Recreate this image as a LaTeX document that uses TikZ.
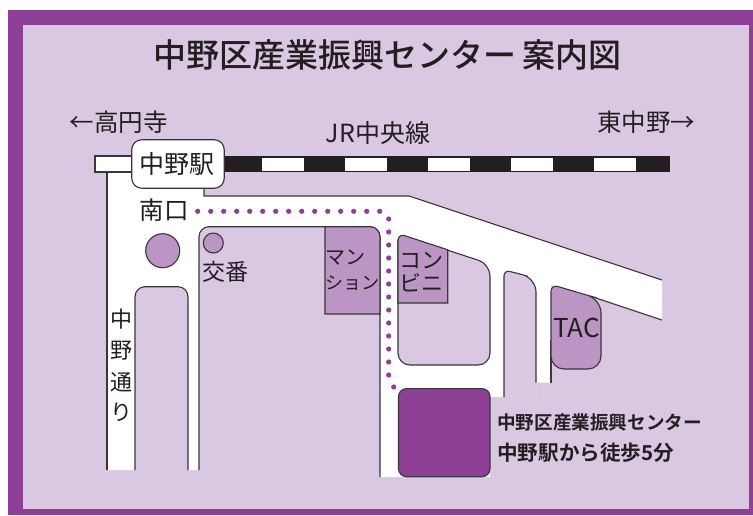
\documentclass[tikz,border=0pt]{standalone}
\usepackage{fontspec}
\newfontfamily\jp{Noto Sans CJK JP}
\newfontfamily\jpm{Noto Sans CJK JP Medium}
\newfontfamily\jpb{Noto Sans CJK JP Bold}
\definecolor{frame}{HTML}{8E3F96}
\definecolor{lilac}{HTML}{DAC8E3}
\definecolor{blockc}{HTML}{BB95C4}
\definecolor{ink}{HTML}{231F20}
\definecolor{edge}{HTML}{3A3638}
\tikzset{
  road/.style={draw=edge,line width=1.1pt},
  lab/.style={text=ink,inner sep=0pt,font=\jp},
  walk/.style={fill=frame},
}
\newcommand{\fs}[1]{\fontsize{#1}{#1}\selectfont}
\begin{document}
\begin{tikzpicture}[x=1pt,y=-1pt]
\useasboundingbox (0,0) rectangle (753,515);
\fill[white] (0,0) rectangle (753,515);
\fill[frame] (8,9.5) rectangle (753,515);
\fill[lilac] (23,25) rectangle (748.7,508.7);
% white road area
\fill[white] (107,171) -- (204,171) -- (204,196) -- (409,196) -- (662,280) -- (662,320) -- (596,298)
  -- (551,285) -- (551,382.6) -- (536,382.6) -- (536,397) -- (490,397) -- (490,477) -- (380,477)
  -- (380,470) -- (107,470) -- cycle;
% lilac blocks between the roads
\fill[lilac] (135,470.5) [rounded corners=10pt] -- (135,286.7) -- (188,286.7) [sharp corners] -- (188,470.5) -- cycle;
\draw[road] (135,470) [rounded corners=10pt] -- (135,286.7) -- (188,286.7) [sharp corners] -- (188,470);
\fill[lilac] (199,470.5) [rounded corners=10pt] -- (199,226.7) -- (380,226.7) [sharp corners] -- (380,470.5) -- cycle;
\fill[lilac] (504,398) [rounded corners=6pt] -- (504,270) -- (522,274.5) [rounded corners=13pt] -- (536,279) [sharp corners] -- (536,398) -- cycle;
% road edges
\draw[road] (107,470) -- (107,171);
\draw[road] (199,470) [rounded corners=10pt] -- (199,226.7) -- (380,226.7) [sharp corners] -- (380,477);
\draw[road] (204,188) -- (204,196) -- (409,196) -- (662,280);
\draw[road] (662,320) -- (596,298);
\draw[road] (504,397) [rounded corners=6pt] -- (504,270) -- (522,274.5) [rounded corners=13pt] -- (536,279) [sharp corners] -- (536,382.6);
\draw[road] (551,340) -- (551,382.6);
% convenience block
\draw[road,fill=lilac] (398,300) [rounded corners=7pt] -- (398,234) -- (447,250) [rounded corners=12pt] -- (490,264) -- (490,365) -- (398,365) -- cycle;
\draw[road,fill=blockc] (398,303) [rounded corners=7pt] -- (398,233.5) [sharp corners] -- (447.7,249.8) -- (447.7,303) -- cycle;
% buildings
\draw[road,fill=blockc] (325,314) -- (325,226.7) [rounded corners=10pt] -- (380,226.7) [sharp corners] -- (380,314) -- cycle;
\draw[road,fill=blockc] (551,340) [rounded corners=7pt] -- (551,284.5) -- (590,296) [rounded corners=14pt] -- (601,299) [rounded corners=13pt] -- (601,369) -- (551,369) -- cycle;
\draw[road,fill=frame,rounded corners=8pt] (398.5,388.6) rectangle (490,476.7);
\draw[road,fill=blockc] (162.7,250.7) circle (17);
\draw[road,fill=blockc] (213.3,243) circle (10);
% railway
\fill[ink] (204,156) rectangle (670,172);
\foreach \a in {261.5,344.5,428,511,594}
  \fill[white] (\a,157.5) rectangle (\a+42,170.5);
\draw[road,fill=white] (95,156) rectangle (140,172);
\node[draw=edge,line width=1.1pt,fill=white,rounded corners=10pt,minimum width=92.5pt,minimum height=48.5pt,inner sep=0pt,text=ink,font={\jp\fs{25}}] (station) at (178,164) {\hspace{-1.5pt}中野駅};
% walking route
\foreach \a in {0,...,14}
  \fill[walk] (197.7+\a*13,211.3) circle (2.6);
\foreach \a in {0,...,12}
  \fill[walk] (388.7,219+\a*13) circle (2.6);
\fill[walk] (393.7,387) circle (2.6);
% text
\node[lab,font={\jpm\fs{33}},anchor=west] (title) at (153,55) {中野区産業振興センター\hspace{0.2em}案内図};
\node[lab,font={\jp\fs{24.5}},anchor=east] (west) at (168,122) {←高円寺};
\node[lab,font={\jp\fs{24.5}},anchor=west] (east) at (597,122) {東中野→};
\node[lab,font={\jp\fs{25}}] (line) at (378,133) {JR中央線};
\node[lab,font={\jp\fs{24.5}},anchor=west] (south) at (139.5,210) {南口};
\node[lab,font={\jp\fs{23}},anchor=west] (koban) at (202.5,272) {交番};
\node[lab,font={\jp\fs{20}},anchor=west] (mansion1) at (325,258) {マン};
\node[lab,font={\jp\fs{18}},anchor=west] (mansion2) at (325,283) {ション};
\node[lab,font={\jp\fs{22}},anchor=west] (conv1) at (399,261) {コン};
\node[lab,font={\jp\fs{22}},anchor=west] (conv2) at (399,283) {ビニ};
\node[lab,font={\jp\fs{26}}] (tac) at (576.5,328) {TAC};
\node[lab,font={\jp\fs{22}}] (nak) at (121,319) {中};
\node[lab,font={\jp\fs{22}}] (no) at (121,351) {野};
\node[lab,font={\jp\fs{22}}] (to) at (121,382) {通};
\node[lab,font={\jp\fs{22}}] (ri) at (121,412) {り};
\node[lab,font={\jpb\fs{18.6}},anchor=west] (name) at (497,422) {中野区産業振興センター};
\node[lab,font={\jpb\fs{20.6}},anchor=west] (walktime) at (497,453) {中野駅から徒歩5分};
\end{tikzpicture}
\end{document}
